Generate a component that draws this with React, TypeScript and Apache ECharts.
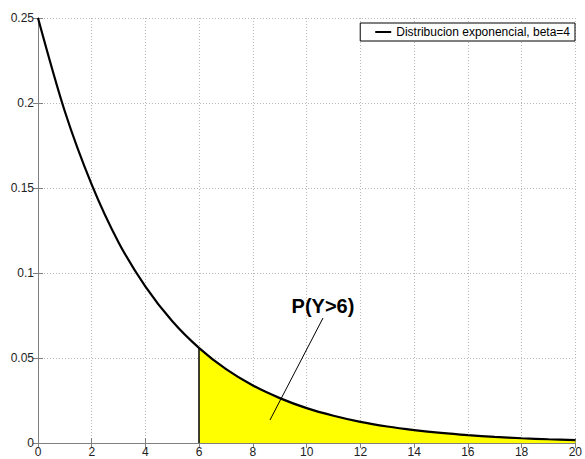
import React, { useEffect, useRef } from "react";
import * as echarts from "echarts";

const xValues = [0, 1, 2, 3, 4, 5, 6, 7, 8, 9, 10, 11, 12, 13, 14, 15, 16, 17, 18, 19, 20];
const density = [
  0.25, 0.195, 0.152, 0.118, 0.092, 0.0716, 0.0558, 0.0434, 0.0338, 0.0264, 0.0205,
  0.016, 0.0124, 0.0097, 0.0076, 0.0059, 0.0046, 0.0036, 0.0028, 0.0022, 0.0017,
];
const tailStart = 6;
const seriesName = "Distribucion exponencial, beta=4";
const annotationText = "P(Y>6)";

const FONT = "'Liberation Sans', Arial, sans-serif";

export default function App() {
  const ref = useRef<HTMLDivElement>(null);
  useEffect(() => {
    if (!ref.current) return;
    const chart = echarts.init(ref.current, undefined, { renderer: "svg" });
    const curve = xValues.map((x, i) => [x, density[i]]);
    const tail = curve.filter((p) => p[0] >= tailStart);
    const tailTop = density[xValues.indexOf(tailStart)];
    const axisColor = "#808080";
    const gridLine = { show: true, lineStyle: { type: [1, 2], color: "#b8b8b8", width: 1 } };
    chart.setOption({
      animation: false,
      backgroundColor: "#ffffff",
      textStyle: { fontFamily: FONT },
      grid: { left: 38, right: 7, top: 18, bottom: 16, containLabel: false },
      legend: {
        data: [{ name: seriesName, icon: "rect" }],
        right: 10,
        top: 23,
        itemWidth: 16,
        itemHeight: 2,
        itemGap: 6,
        padding: [3, 5, 3, 15],
        borderColor: "#000",
        borderWidth: 1,
        backgroundColor: "#fff",
        textStyle: { fontSize: 12, color: "#000", fontFamily: FONT },
      },
      xAxis: [
        {
          type: "value",
          min: 0,
          max: 20,
          interval: 2,
          axisLine: { show: true, onZero: false, lineStyle: { color: axisColor } },
          axisTick: { show: true, inside: true, length: 5, lineStyle: { color: axisColor } },
          axisLabel: { color: "#222", fontSize: 12, margin: 3, fontFamily: FONT },
          splitLine: gridLine,
        },
        {
          type: "value",
          position: "top",
          min: 0,
          max: 20,
          interval: 2,
          axisLine: { show: true, lineStyle: { color: axisColor } },
          axisTick: { show: true, inside: true, length: 5, lineStyle: { color: axisColor } },
          axisLabel: { show: false },
          splitLine: { show: false },
        },
      ],
      yAxis: [
        {
          type: "value",
          min: 0,
          max: 0.25,
          interval: 0.05,
          axisLine: { show: true, onZero: false, lineStyle: { color: axisColor } },
          axisTick: { show: true, inside: true, length: 5, lineStyle: { color: axisColor } },
          axisLabel: { color: "#222", fontSize: 12, margin: 4, fontFamily: FONT },
          splitLine: gridLine,
        },
        {
          type: "value",
          position: "right",
          min: 0,
          max: 0.25,
          interval: 0.05,
          axisLine: { show: true, lineStyle: { color: axisColor } },
          axisTick: { show: true, inside: true, length: 5, lineStyle: { color: axisColor } },
          axisLabel: { show: false },
          splitLine: { show: false },
        },
      ],
      series: [
        {
          name: "tail",
          type: "line",
          data: tail,
          smooth: 0.3,
          symbol: "none",
          lineStyle: { width: 0 },
          areaStyle: { color: "#ffff00", opacity: 1 },
          z: 1,
          markLine: {
            silent: true,
            symbol: "none",
            label: { show: false },
            lineStyle: { color: "#000", width: 1.5, type: "solid" },
            data: [[{ coord: [tailStart, 0] }, { coord: [tailStart, tailTop] }]],
          },
        },
        {
          name: seriesName,
          type: "line",
          data: curve,
          smooth: 0.3,
          symbol: "none",
          color: "#000",
          lineStyle: { color: "#000", width: 2.2 },
          z: 3,
        },
      ],
      graphic: [
        {
          type: "line",
          shape: { x1: 323, y1: 318, x2: 270, y2: 420 },
          style: { stroke: "#000", lineWidth: 1 },
          z: 10,
        },
        {
          type: "text",
          x: 323,
          y: 306,
          style: {
            text: annotationText,
            font: `bold 20px ${FONT}`,
            fill: "#000",
            align: "center",
            verticalAlign: "middle",
          },
          z: 10,
        },
      ],
    });
    return () => chart.dispose();
  }, []);
  return (
    <div
      ref={ref}
      style={{ position: "fixed", left: 0, top: 0, width: 585, height: 459, background: "#fff" }}
    />
  );
}
